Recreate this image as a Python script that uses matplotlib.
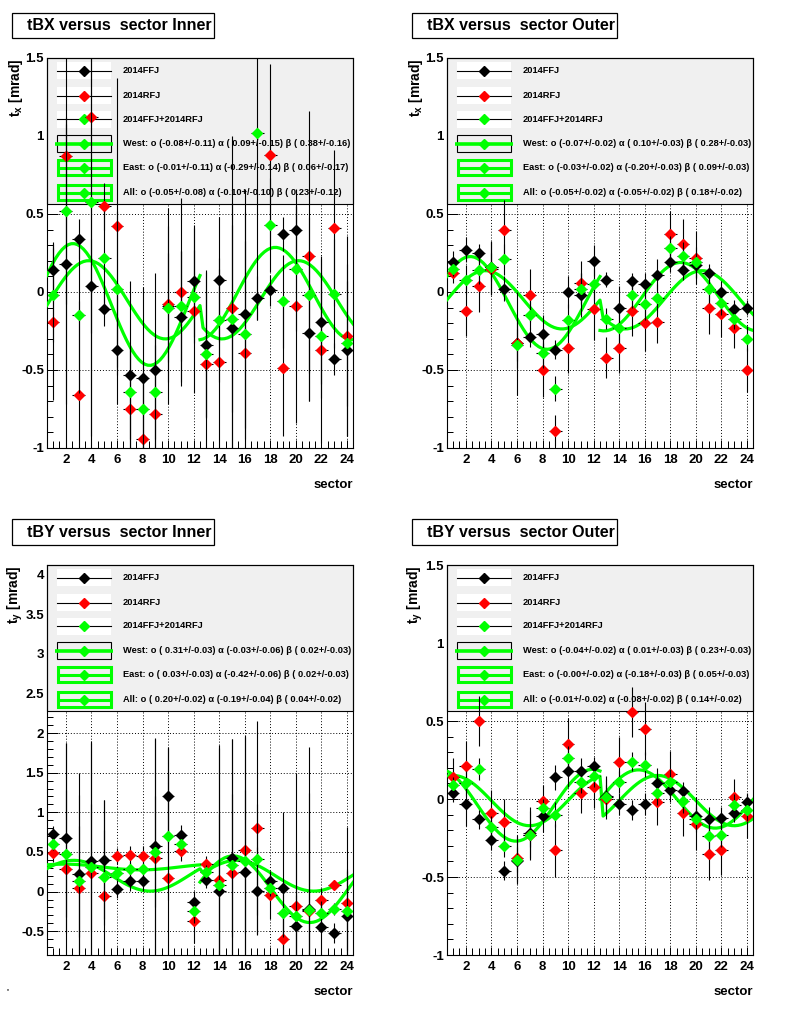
import numpy as np
import matplotlib
matplotlib.use("Agg")
import matplotlib.pyplot as plt
from matplotlib.patches import Rectangle
from matplotlib.lines import Line2D
from matplotlib.ticker import MultipleLocator, FuncFormatter

plt.rcParams['font.family'] = ['Liberation Sans', 'DejaVu Sans']
plt.rcParams['font.weight'] = 'bold'
plt.rcParams['axes.unicode_minus'] = False
plt.rcParams['mathtext.fontset'] = 'custom'
plt.rcParams['mathtext.rm'] = 'Liberation Sans:bold'
plt.rcParams['mathtext.bf'] = 'Liberation Sans:bold'
plt.rcParams['mathtext.it'] = 'Liberation Sans:bold'

sectors = np.arange(1, 25)
series_labels = ["2014FFJ", "2014RFJ", "2014FFJ+2014RFJ"]
nan = np.nan

# ---------------- tBX Inner ----------------
bxi_ffj = [0.14, 0.18, 0.34, 0.04, -0.11, -0.37, -0.53, -0.55, -0.50, -0.09, -0.16, 0.07,
           -0.34, 0.08, -0.23, -0.14, -0.04, 0.01, 0.37, 0.40, -0.26, -0.19, -0.43, -0.37]
bxi_ffj_err = [0.18, 0.9, 0.13, 0.3, 0.11, 0.35, 0.60, 0.58, 0.62, 0.63, 0.42, 0.36,
               0.47, 0.40, 0.80, 0.80, 0.14, 0.10, 0.11, 0.15, 0.44, 0.40, 0.10, 0.55]
bxi_rfj = [-0.19, 0.87, -0.66, 1.12, 0.55, 0.42, -0.75, -0.94, -0.78, -0.08, 0.00, -0.12,
           -0.46, -0.45, -0.10, -0.39, nan, 0.88, -0.49, -0.09, 0.23, -0.37, 0.41, -0.28]
bxi_rfj_err = [0.50, 2.0, 0.6, 2.2, 0.15, 0.95, 0.4, 0.4, 0.5, 0.5, 0.6, 0.53,
               0.6, 0.6, 1.1, 0.9, nan, 0.58, 0.43, 0.75, 0.93, 0.6, 0.5, 0.64]
bxi_all = [-0.02, 0.52, -0.15, 0.58, 0.22, 0.02, -0.64, -0.75, -0.64, -0.10, -0.09, -0.03,
           -0.40, -0.18, -0.17, -0.27, 1.02, 0.43, -0.06, 0.15, -0.02, -0.28, -0.01, -0.33]
bxi_all_err = [0.3, 0.6, 0.5, 1.5, 0.3, 0.5, 0.3, 0.3, 0.3, 0.35, 0.35, 0.3,
               0.4, 0.4, 0.6, 0.6, 1.2, 0.3, 0.3, 0.4, 0.5, 0.4, 0.35, 0.4]
bxi_fit_west = (-0.08, 0.09, 0.38)
bxi_fit_east = (-0.01, -0.29, 0.06)
bxi_fit_all = (-0.05, -0.10, 0.23)
bxi_legend = ["West: o (-0.08+/-0.11) \u03b1 ( 0.09+/-0.15) \u03b2 ( 0.38+/-0.16)",
              "East: o (-0.01+/-0.11) \u03b1 (-0.29+/-0.14) \u03b2 ( 0.06+/-0.17)",
              "All: o (-0.05+/-0.08) \u03b1 (-0.10+/-0.10) \u03b2 ( 0.23+/-0.12)"]

# ---------------- tBX Outer ----------------
bxo_ffj = [0.19, 0.27, 0.25, 0.16, 0.02, -0.33, -0.29, -0.27, -0.37, 0.00, -0.02, 0.20,
           0.08, -0.10, 0.07, 0.05, 0.11, 0.19, 0.14, 0.17, 0.12, 0.00, -0.11, -0.10]
bxo_ffj_err = [0.07, 0.08, 0.06, 0.17, 0.08, 0.33, 0.06, 0.12, 0.06, 0.10, 0.14, 0.10,
               0.05, 0.14, 0.05, 0.07, 0.10, 0.06, 0.06, 0.08, 0.06, 0.07, 0.06, 0.05]
bxo_rfj = [0.12, -0.12, 0.04, 0.15, 0.40, -0.33, -0.02, -0.50, -0.89, -0.36, 0.06, -0.11,
           -0.42, -0.36, -0.12, -0.20, -0.19, 0.37, 0.31, 0.22, -0.10, -0.14, -0.23, -0.50]
bxo_rfj_err = [0.06, 0.16, 0.17, 0.17, 0.19, 0.16, 0.17, 0.17, 0.10, 0.16, 0.14, 0.20,
               0.13, 0.16, 0.16, 0.18, 0.14, 0.15, 0.16, 0.17, 0.17, 0.15, 0.13, 0.14]
bxo_all = [0.15, 0.08, 0.14, 0.16, 0.21, -0.34, -0.15, -0.39, -0.62, -0.18, 0.02, 0.05,
           -0.17, -0.23, -0.02, -0.08, -0.04, 0.28, 0.23, 0.19, 0.02, -0.07, -0.17, -0.30]
bxo_all_err = [0.05, 0.09, 0.09, 0.09, 0.10, 0.10, 0.09, 0.10, 0.08, 0.10, 0.10, 0.10,
               0.07, 0.10, 0.08, 0.10, 0.09, 0.08, 0.09, 0.10, 0.09, 0.08, 0.07, 0.08]
bxo_fit_west = (-0.07, 0.10, 0.28)
bxo_fit_east = (-0.03, -0.20, 0.09)
bxo_fit_all = (-0.05, -0.05, 0.18)
bxo_legend = ["West: o (-0.07+/-0.02) \u03b1 ( 0.10+/-0.03) \u03b2 ( 0.28+/-0.03)",
              "East: o (-0.03+/-0.02) \u03b1 (-0.20+/-0.03) \u03b2 ( 0.09+/-0.03)",
              "All: o (-0.05+/-0.02) \u03b1 (-0.05+/-0.02) \u03b2 ( 0.18+/-0.02)"]

# ---------------- tBY Inner ----------------
byi_ffj = [0.73, 0.68, 0.22, 0.38, 0.40, 0.03, 0.13, 0.13, 0.57, 1.21, 0.72, -0.13,
           0.15, 0.01, 0.42, 0.25, 0.01, 0.13, 0.04, -0.44, -0.22, -0.45, -0.52, -0.31]
byi_ffj_err = [0.10, 1.2, 1.0, 1.5, 0.75, 0.11, 0.12, 0.12, 1.37, 0.6, 0.12, 0.14,
               0.10, 1.8, 1.5, 1.7, 0.55, 0.10, 0.96, 0.40, 2.05, 0.35, 0.13, 0.6]
byi_rfj = [0.49, 0.29, 0.04, 0.24, -0.05, 0.45, 0.46, 0.45, 0.43, 0.17, 0.51, -0.37,
           0.35, 0.15, 0.23, 0.52, 0.80, -0.04, -0.60, -0.18, -0.25, -0.10, 0.08, -0.14]
byi_rfj_err = [0.12, 1.58, 1.45, 1.66, 1.2, 0.10, 0.12, 0.12, 1.5, 1.65, 0.12, 0.28,
               0.10, 1.7, 1.7, 1.45, 1.35, 0.30, 0.30, 1.68, 1.5, 0.15, 0.05, 0.95]
byi_all = [0.60, 0.48, 0.13, 0.31, 0.18, 0.24, 0.29, 0.29, 0.50, 0.70, 0.60, -0.24,
           0.25, 0.08, 0.33, 0.38, 0.41, 0.04, -0.27, -0.31, -0.23, -0.27, -0.22, -0.24]
byi_all_err = [0.08, 0.8, 0.7, 0.8, 0.6, 0.08, 0.08, 0.08, 0.7, 0.8, 0.08, 0.15,
               0.08, 0.9, 0.9, 0.9, 0.7, 0.10, 0.30, 0.8, 1.0, 0.15, 0.08, 0.5]
byi_fit_west = (0.31, -0.03, 0.02)
byi_fit_east = (0.03, -0.42, 0.02)
byi_fit_all = (0.20, -0.19, 0.04)
byi_legend = ["West: o ( 0.31+/-0.03) \u03b1 (-0.03+/-0.06) \u03b2 ( 0.02+/-0.03)",
              "East: o ( 0.03+/-0.03) \u03b1 (-0.42+/-0.06) \u03b2 ( 0.02+/-0.03)",
              "All: o ( 0.20+/-0.02) \u03b1 (-0.19+/-0.04) \u03b2 ( 0.04+/-0.02)"]

# ---------------- tBY Outer ----------------
byo_ffj = [0.04, -0.03, -0.13, -0.26, -0.46, -0.395, -0.22, -0.11, 0.14, 0.18, 0.18, 0.21,
           0.02, -0.03, -0.07, -0.03, 0.10, 0.06, 0.05, -0.11, -0.13, -0.12, -0.09, -0.02]
byo_ffj_err = [0.06, 0.14, 0.06, 0.07, 0.06, 0.15, 0.17, 0.10, 0.08, 0.10, 0.08, 0.06,
               0.13, 0.07, 0.065, 0.07, 0.10, 0.08, 0.06, 0.08, 0.08, 0.07, 0.06, 0.06]
byo_rfj = [0.14, 0.21, 0.50, -0.09, -0.15, -0.38, -0.23, -0.01, -0.33, 0.35, 0.04, 0.08,
           0.00, 0.24, 0.56, 0.45, -0.02, 0.16, -0.09, -0.16, -0.35, -0.33, 0.01, -0.11]
byo_rfj_err = [0.12, 0.16, 0.16, 0.15, 0.15, 0.15, 0.15, 0.10, 0.17, 0.17, 0.13, 0.135,
               0.13, 0.155, 0.16, 0.17, 0.145, 0.15, 0.15, 0.17, 0.17, 0.16, 0.12, 0.14]
byo_all = [0.09, 0.10, 0.19, -0.18, -0.30, -0.39, -0.23, -0.06, -0.10, 0.26, 0.11, 0.15,
           0.01, 0.11, 0.24, 0.22, 0.04, 0.11, -0.01, -0.13, -0.24, -0.23, -0.04, -0.07]
byo_all_err = [0.05, 0.08, 0.07, 0.07, 0.07, 0.08, 0.08, 0.06, 0.08, 0.08, 0.07, 0.07,
               0.08, 0.07, 0.06, 0.08, 0.08, 0.08, 0.08, 0.08, 0.08, 0.08, 0.07, 0.07]
byo_fit_west = (-0.04, 0.01, 0.23)
byo_fit_east = (-0.00, -0.18, 0.05)
byo_fit_all = (-0.01, -0.08, 0.14)
byo_legend = ["West: o (-0.04+/-0.02) \u03b1 ( 0.01+/-0.03) \u03b2 ( 0.23+/-0.03)",
              "East: o (-0.00+/-0.02) \u03b1 (-0.18+/-0.03) \u03b2 ( 0.05+/-0.03)",
              "All: o (-0.01+/-0.02) \u03b1 (-0.08+/-0.02) \u03b2 ( 0.14+/-0.02)"]

GREEN = '#00ff00'
RED = '#ff0000'
W, H = 800.0, 1014.0
fig = plt.figure(figsize=(W / 100, H / 100), dpi=100)


def fit_value(kind, side, par, x):
    o, a, b = par
    phi = np.radians(30.0 * x)
    s = 1.0 if side == 'W' else -1.0
    if kind == 'X':
        return o + a * np.cos(phi) + s * b * np.sin(phi)
    return o - a * np.sin(phi) + s * b * np.cos(phi)


def draw_panel(ax, kind, ylim, ymajor, ffj, ffj_e, rfj, rfj_e, comb, comb_e,
               pw, pe, pa, leg_texts, ylabel):
    ax.set_xlim(0.5, 24.5)
    ax.set_ylim(*ylim)
    ax.set_axisbelow(True)
    ax.xaxis.set_major_locator(MultipleLocator(2))
    ax.xaxis.set_minor_locator(MultipleLocator(0.5))
    ax.yaxis.set_major_locator(MultipleLocator(ymajor))
    ax.yaxis.set_minor_locator(MultipleLocator(0.1))
    fmt = FuncFormatter(lambda v, p: '%g' % (round(v, 6) + 0.0))
    ax.yaxis.set_major_formatter(fmt)
    ax.xaxis.set_major_formatter(fmt)
    ax.tick_params(axis='x', which='major', direction='in', length=6, width=0.72,
                   labelsize=9.5, pad=4, top=False)
    ax.tick_params(axis='x', which='minor', direction='in', length=5, width=0.72, top=False)
    ax.tick_params(axis='y', which='major', direction='in', length=8, width=0.72,
                   labelsize=9.5, pad=2, right=False)
    ax.tick_params(axis='y', which='minor', direction='in', length=4.5, width=0.72, right=False)
    for sp in ax.spines.values():
        sp.set_linewidth(0.8)
    ax.grid(True, which='major', color='black', linestyle=(0, (1, 2)), linewidth=0.7)

    # legend box (drawn under data, like the original)
    axh = 390.0
    axw = 306.6
    leg_bottom = 1 - 146.0 / axh
    ax.add_patch(Rectangle((0, leg_bottom), 1, 1 - leg_bottom, transform=ax.transAxes,
                           facecolor='#f0f0f0', edgecolor='black', linewidth=0.8,
                           zorder=1, clip_on=False))
    rows = [12.7, 37.7, 61.0, 85.7, 109.5, 134.7]
    x0, x1 = 10.5 / axw, 64.5 / axw
    xm = 37.6 / axw
    xt = 76.0 / axw
    bh = 17.0 / axh
    mcolors = ['black', RED, GREEN]
    labels = series_labels + leg_texts
    for i, yc in enumerate(rows):
        yf = 1 - yc / axh
        if i < 3:
            ax.add_patch(Rectangle((x0, yf - bh / 2), x1 - x0, bh, transform=ax.transAxes,
                                   facecolor='white', edgecolor='none', zorder=1.2))
            ax.add_line(Line2D([x0, x1], [yf, yf], transform=ax.transAxes, color='black',
                               lw=0.8, zorder=1.3))
            ax.add_line(Line2D([xm], [yf], transform=ax.transAxes, marker='D', ms=4.8,
                               color=mcolors[i], mec=mcolors[i], ls='none', zorder=1.4))
        elif i == 3:
            ax.add_patch(Rectangle((x0, yf - bh / 2), x1 - x0, bh, transform=ax.transAxes,
                                   facecolor='none', edgecolor='black', lw=0.8, zorder=1.2))
            ax.add_line(Line2D([8.3 / axw, 66.0 / axw], [yf, yf], transform=ax.transAxes,
                               color=GREEN, lw=2.6, zorder=1.3, solid_capstyle='butt'))
            ax.add_line(Line2D([xm], [yf], transform=ax.transAxes, marker='D', ms=4.8,
                               color=GREEN, ls='none', zorder=1.4))
        else:
            bh2 = 15.5 / axh
            ax.add_patch(Rectangle((x0 + 0.7 / axw, yf - bh2 / 2), x1 - x0 - 1.4 / axw, bh2,
                                   transform=ax.transAxes, facecolor='none',
                                   edgecolor=GREEN, lw=2.2, zorder=1.2))
            ax.add_line(Line2D([x0, x1], [yf, yf], transform=ax.transAxes, color=GREEN,
                               lw=2.2, zorder=1.3, solid_capstyle='butt'))
            ax.add_line(Line2D([xm], [yf], transform=ax.transAxes, marker='D', ms=4.8,
                               color=GREEN, ls='none', zorder=1.4))
        ax.text(xt, yf, labels[i], transform=ax.transAxes, fontsize=6.7,
                fontweight='bold', va='center', ha='left', zorder=1.5)

    # fit curves
    xw = np.linspace(0.5, 12.5, 51)
    xe = np.linspace(12.5, 24.5, 51)
    xa = np.linspace(0.5, 24.5, 101)
    ya = np.where(xa <= 12.5 + 1e-9, fit_value(kind, 'W', pa, xa), fit_value(kind, 'E', pa, xa))
    ax.plot(xw, fit_value(kind, 'W', pw, xw), color=GREEN, lw=2.3, zorder=3)
    ax.plot(xe, fit_value(kind, 'E', pe, xe), color=GREEN, lw=2.3, zorder=3)
    ax.plot(xa, ya, color=GREEN, lw=2.3, zorder=3)

    # data
    for y, e, c, z in [(ffj, ffj_e, 'black', 4), (rfj, rfj_e, RED, 5), (comb, comb_e, GREEN, 6)]:
        ax.errorbar(sectors, y, yerr=e, xerr=0.5, fmt='D', ms=4.8, color=c, mec=c,
                    ecolor='black', elinewidth=0.8, capsize=0, zorder=z)

    ax.set_ylabel(ylabel, fontsize=10, fontweight='bold', loc='top')
    ax.yaxis.set_label_coords(-0.072, 1.0)
    ax.set_xlabel('sector', fontsize=9.5, fontweight='bold', loc='right')
    ax.xaxis.label.set_va('center')
    ax.xaxis.set_label_coords(1.0, -37.0 / axh)


axw_f = 306.6 / W
axh_f = 390.0 / H
lefts = [46.7 / W, 446.7 / W]
bottoms = [1 - 448.0 / H, 1 - 955.0 / H]

ax1 = fig.add_axes([lefts[0], bottoms[0], axw_f, axh_f])
ax2 = fig.add_axes([lefts[1], bottoms[0], axw_f, axh_f])
ax3 = fig.add_axes([lefts[0], bottoms[1], axw_f, axh_f])
ax4 = fig.add_axes([lefts[1], bottoms[1], axw_f, axh_f])

draw_panel(ax1, 'X', (-1, 1.5), 0.5, bxi_ffj, bxi_ffj_err, bxi_rfj, bxi_rfj_err,
           bxi_all, bxi_all_err, bxi_fit_west, bxi_fit_east, bxi_fit_all, bxi_legend,
           r't$_{\mathbf{x}}$ [mrad]')
draw_panel(ax2, 'X', (-1, 1.5), 0.5, bxo_ffj, bxo_ffj_err, bxo_rfj, bxo_rfj_err,
           bxo_all, bxo_all_err, bxo_fit_west, bxo_fit_east, bxo_fit_all, bxo_legend,
           r't$_{\mathbf{x}}$ [mrad]')
draw_panel(ax3, 'Y', (-0.8, 4.12), 0.5, byi_ffj, byi_ffj_err, byi_rfj, byi_rfj_err,
           byi_all, byi_all_err, byi_fit_west, byi_fit_east, byi_fit_all, byi_legend,
           r't$_{\mathbf{y}}$ [mrad]')
draw_panel(ax4, 'Y', (-1, 1.5), 0.5, byo_ffj, byo_ffj_err, byo_rfj, byo_rfj_err,
           byo_all, byo_all_err, byo_fit_west, byo_fit_east, byo_fit_all, byo_legend,
           r't$_{\mathbf{y}}$ [mrad]')

titles = [("tBX versus  sector Inner", 26.7, 25.5, 12.7, 38.3),
          ("tBX versus  sector Outer", 426.7, 25.5, 12.7, 38.3),
          ("tBY versus  sector Inner", 26.7, 532.2, 519.3, 545.0),
          ("tBY versus  sector Outer", 426.7, 532.2, 519.3, 545.0)]
tobjs = []
for txt, xp, yp, yt, yb in titles:
    t = fig.text(xp / W, 1 - yp / H, txt, fontsize=11.5, fontweight='bold',
                 ha='left', va='center')
    tobjs.append((t, xp, yt, yb))

fig.text(7 / W, 1 - 992 / H, "'", fontsize=6, ha='center', va='center')

fig.canvas.draw()
renderer = fig.canvas.get_renderer()
for t, xp, yt, yb in tobjs:
    bb = t.get_window_extent(renderer)
    left = xp - 15.0
    right = bb.x1 + 2.5
    fig.add_artist(Rectangle((left / W, 1 - yb / H), (right - left) / W, (yb - yt) / H,
                             transform=fig.transFigure, facecolor='white',
                             edgecolor='black', lw=0.9, zorder=-1))

fig.savefig('out.png', dpi=100, facecolor='white')
